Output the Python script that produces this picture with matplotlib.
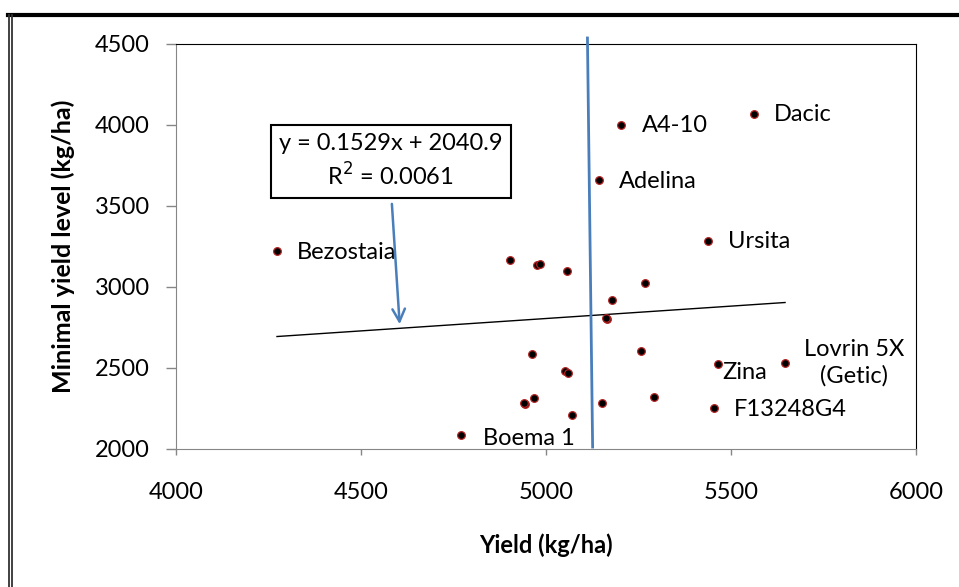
import numpy as np
import matplotlib.pyplot as plt
from matplotlib.lines import Line2D

plt.rcParams['font.family'] = ['Lato', 'DejaVu Sans']

# named varieties (yield, minimal yield level)
names = ['Bezostaia', 'Boema 1', 'A4-10', 'Adelina', 'Dacic', 'Ursita',
         'Lovrin 5X\n(Getic)', 'Zina', 'F13248G4']
name_x = [4273, 4769, 5204, 5144, 5563, 5439, 5646, 5466, 5453]
name_y = [3222, 2086, 4000, 3660, 4068, 3284, 2531, 2523, 2250]

# unlabelled varieties
other_x = [4903, 4975, 4985, 5056, 5268, 5177, 5164, 5162, 4962, 5050,
           5059, 4943, 4940, 4968, 5071, 5150, 5257, 5293]
other_y = [3167, 3138, 3142, 3097, 3027, 2922, 2804, 2810, 2584, 2481,
           2467, 2278, 2283, 2313, 2210, 2282, 2605, 2319]

# linear trend reported on the chart
slope = 0.1529
intercept = 2040.9
eq_text = 'y = 0.1529x + 2040.9\nR$^2$ = 0.0061'

fig = plt.figure(figsize=(9.59, 5.87), dpi=100)
ax = fig.add_axes([0.1835, 0.2351, 0.7717, 0.69])

all_x = np.array(name_x + other_x)
all_y = np.array(name_y + other_y)
ax.plot(all_x, all_y, 'o', ms=5.5, mfc='black', mec='#B22222', mew=0.9, zorder=3)

tx = np.array([all_x.min(), all_x.max()])
ax.plot(tx, slope * tx + intercept, color='black', lw=1, zorder=2)

# labels next to named points
offsets = {'Zina': (4, -8), 'Boema 1': (22, -3)}
for n, x, y in zip(names, name_x, name_y):
    dx, dy = offsets.get(n, (20, -1))
    if n.startswith('Lovrin'):
        ax.annotate(n, (x, y), xytext=(69, 0), textcoords='offset pixels',
                    ha='center', va='center', fontsize=17, multialignment='center',
                    linespacing=1.3)
    else:
        ax.annotate(n, (x, y), xytext=(dx, dy), textcoords='offset pixels',
                    ha='left', va='center', fontsize=17)

# vertical blue line (drawn shape)
ax.plot([5112, 5126], [4537, 2012], color='#4A7EBB', lw=2, clip_on=False, zorder=4)

# equation box and arrow
ax.text(4580, 3775, eq_text, ha='center', va='center', fontsize=17,
        linespacing=1.35,
        bbox=dict(boxstyle='square,pad=0.35', fc='white', ec='black', lw=1.5))
ax.annotate('', xy=(4605, 2753), xytext=(4583, 3530),
            arrowprops=dict(arrowstyle='->,head_length=0.9,head_width=0.45',
                            color='#4A7EBB', lw=1.8))

ax.set_xlim(4000, 6000)
ax.set_ylim(2000, 4500)
ax.set_xticks(np.arange(4000, 6001, 500))
ax.set_yticks(np.arange(2000, 4501, 500))
ax.tick_params(axis='both', labelsize=17, color='#868686', length=4.5, width=1)
ax.tick_params(axis='x', pad=19)
ax.tick_params(axis='y', length=7, pad=12)
for s in ['left', 'bottom']:
    ax.spines[s].set_color('#868686')
for s in ['top', 'right']:
    ax.spines[s].set_color('black')
ax.set_xlabel('Yield (kg/ha)', fontsize=17, fontweight='bold', labelpad=22)
ax.set_ylabel('Minimal yield level (kg/ha)', fontsize=18, fontweight='bold', labelpad=14)

# outer frame
fig.add_artist(Line2D([8 / 959, 1], [1 - 15 / 587] * 2, color='black', lw=3))
for px in [8.5, 11.5]:
    fig.add_artist(Line2D([px / 959] * 2, [0, 1 - 15 / 587], color='#333333', lw=1.3))

fig.savefig('out.png', dpi=100)
